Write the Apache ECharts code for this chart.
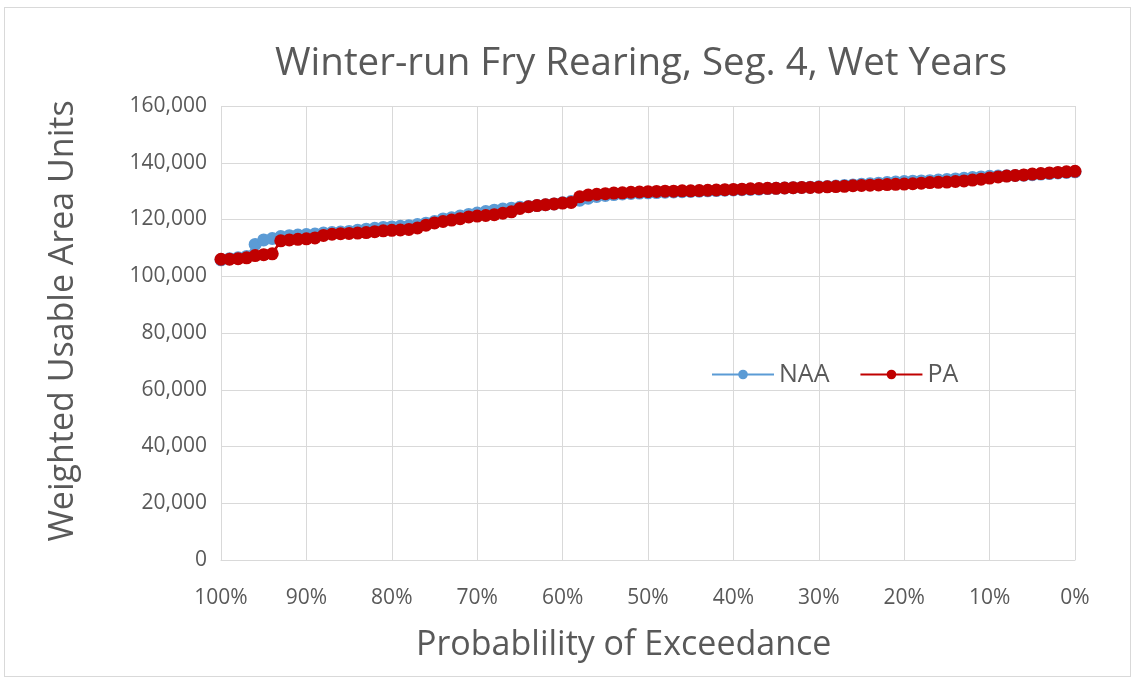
<!DOCTYPE html>
<html>
<head>
<meta charset="utf-8">
<script src="https://cdn.jsdelivr.net/npm/echarts@6/dist/echarts.min.js"></script>
<style>
html,body{margin:0;padding:0;background:#fff;}
#frame{position:absolute;left:4px;top:7px;width:1127px;height:670px;border:1px solid #d9d9d9;box-sizing:border-box;}
#chart{position:absolute;left:0;top:0;width:1133px;height:679px;}
</style>
</head>
<body>
<div id="frame"></div>
<div id="chart"></div>
<script>
const titleText = "Winter-run Fry Rearing, Seg. 4, Wet Years";
const xAxisName = "Probablility of Exceedance";
const yAxisName = "Weighted Usable Area Units";
const seriesNames = ["NAA", "PA"];
// exceedance probability (%) for each point, 100 -> 0
const exceedance = [100,99,98,97,96,95,94,93,92,91,90,89,88,87,86,85,84,83,82,81,80,79,78,77,76,75,74,73,72,71,70,69,68,67,66,65,64,63,62,61,60,59,58,57,56,55,54,53,52,51,50,49,48,47,46,45,44,43,42,41,40,39,38,37,36,35,34,33,32,31,30,29,28,27,26,25,24,23,22,21,20,19,18,17,16,15,14,13,12,11,10,9,8,7,6,5,4,3,2,1,0];
const naaValues = [105800,106200,106500,107000,111200,112800,113300,114000,114300,114500,114700,114900,115200,115400,115600,115800,116200,116600,116900,117200,117400,117600,117800,118200,118700,119300,120200,120600,121200,121800,122300,122800,123300,123700,124000,124300,124600,124900,125200,125500,125900,126300,126800,127500,128100,128500,128800,129000,129200,129300,129400,129500,129600,129700,129800,129900,130000,130100,130200,130300,130400,130500,130600,130700,130900,131000,131100,131200,131300,131400,131500,131600,131800,132000,132200,132400,132600,132800,133000,133200,133400,133500,133600,133700,133900,134100,134300,134500,134800,135000,135200,135300,135400,135500,135600,135800,136000,136200,136400,136600,136800];
const paValues = [106000,106000,106200,106500,107300,107600,107900,112500,112800,113000,113200,113500,114400,114800,115000,115100,115200,115400,115700,116000,116200,116300,116500,117000,118000,118800,119300,119800,120300,120900,121200,121400,121700,122200,122700,123900,124500,124900,125200,125500,125800,126000,128000,128600,128900,129100,129300,129400,129600,129700,129800,129900,130000,130000,130100,130100,130200,130300,130400,130500,130600,130700,130800,130900,131000,131000,131100,131200,131300,131300,131400,131500,131600,131700,131900,132000,132100,132200,132300,132400,132500,132600,132800,133000,133100,133200,133400,133600,133900,134200,134600,135000,135300,135500,135700,136000,136200,136400,136600,136800,137000];

const FONT = "'Open Sans', 'Noto Sans', sans-serif";
const TXT = "#595959";
const chart = echarts.init(document.getElementById('chart'), null, {renderer:'canvas'});
const pairs = (vals) => exceedance.map((p, i) => [p, vals[i]]);
chart.setOption({
  animation: false,
  backgroundColor: 'transparent',
  title: {
    text: titleText, left: 270, top: 40,
    textStyle: {fontFamily: FONT, fontSize: 38.5, fontWeight: 'normal', color: TXT}
  },
  legend: {
    data: seriesNames, left: 706, top: 357, itemWidth: 62, itemHeight: 12, itemGap: 30,
    textStyle: {fontFamily: FONT, fontSize: 25, color: TXT}
  },
  graphic: [
    {type: 'text', left: 416, top: 628,
     style: {text: xAxisName, font: "34px 'Open Sans', 'Noto Sans', sans-serif", fill: TXT}},
    {type: 'text', x: 63, y: 321, rotation: Math.PI / 2,
     style: {text: yAxisName, font: "34px 'Open Sans', 'Noto Sans', sans-serif", fill: TXT,
             align: 'center', verticalAlign: 'middle'}}
  ],
  grid: {left: 221, right: 58, top: 106, bottom: 119, containLabel: false},
  xAxis: {
    type: 'value', inverse: true, min: 0, max: 100, interval: 10,
    axisLine: {show: true, lineStyle: {color: '#d9d9d9', width: 1}},
    axisTick: {show: false},
    axisLabel: {formatter: '{value}%', fontFamily: FONT, fontSize: 21, color: TXT, margin: 28},
    splitLine: {show: true, lineStyle: {color: '#d9d9d9', width: 1}}
  },
  yAxis: {
    type: 'value', min: 0, max: 160000, interval: 20000,
    axisLine: {show: false}, axisTick: {show: false},
    axisLabel: {formatter: v => v.toLocaleString('en-US'), fontFamily: FONT, fontSize: 21, color: TXT, margin: 14},
    splitLine: {show: true, lineStyle: {color: '#d9d9d9', width: 1}}
  },
  series: [
    {name: seriesNames[0], type: 'line', data: pairs(naaValues), symbol: 'circle', symbolSize: 13,
     itemStyle: {color: '#5B9BD5'}, lineStyle: {color: '#5B9BD5', width: 2.5}, z: 2},
    {name: seriesNames[1], type: 'line', data: pairs(paValues), symbol: 'circle', symbolSize: 13,
     itemStyle: {color: '#C00000'}, lineStyle: {color: '#C00000', width: 2.5}, z: 3}
  ]
});
</script>
</body>
</html>
